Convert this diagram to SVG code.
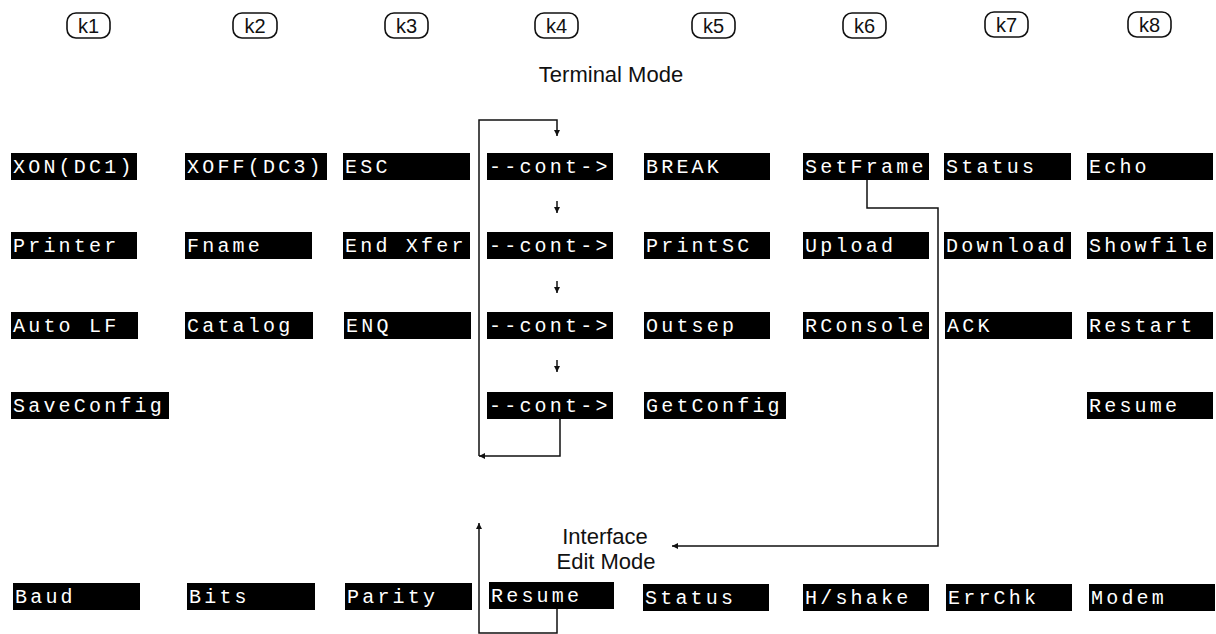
<svg xmlns="http://www.w3.org/2000/svg" width="1216" height="634" viewBox="0 0 1216 634">
  <style>
    .key rect { fill: #fff; stroke: #111; stroke-width: 1.6; }
    .key text { font-family: "Liberation Sans", Arial, sans-serif; font-size: 20px; fill: #111; text-anchor: middle; }
    .sk rect { fill: #000; }
    .sk text { font-family: "Liberation Mono", "DejaVu Sans Mono", monospace; font-size: 20px; letter-spacing: 3.2px; fill: #fff; }
    .title { font-family: "Liberation Sans", Arial, sans-serif; font-size: 22px; fill: #111; text-anchor: middle; }
    .wire { fill: none; stroke: #111; stroke-width: 1.5; }
  </style>
  <defs>
    <marker id="ah" viewBox="0 0 10 10" refX="10" refY="5" markerWidth="6" markerHeight="6" orient="auto" markerUnits="userSpaceOnUse">
      <path d="M0,0 L10,5 L0,10 z" fill="#111"/>
    </marker>
  </defs>
  <rect width="1216" height="634" fill="#fff"/>

  <!-- function key badges -->
  <g id="keys">
    <g id="k1" class="key"><rect x="67" y="13" width="43" height="25" rx="9"/><text x="88.5" y="33">k1</text></g>
    <g id="k2" class="key"><rect x="233" y="13" width="44" height="25" rx="9"/><text x="255" y="33">k2</text></g>
    <g id="k3" class="key"><rect x="385" y="13" width="43" height="25" rx="9"/><text x="406.5" y="33">k3</text></g>
    <g id="k4" class="key"><rect x="535" y="13" width="43" height="25" rx="9"/><text x="556.5" y="33">k4</text></g>
    <g id="k5" class="key"><rect x="692" y="13" width="43" height="25" rx="9"/><text x="713.5" y="33">k5</text></g>
    <g id="k6" class="key"><rect x="843" y="13" width="43" height="25" rx="9"/><text x="864.5" y="33">k6</text></g>
    <g id="k7" class="key"><rect x="985" y="12" width="43" height="25" rx="9"/><text x="1006.5" y="32">k7</text></g>
    <g id="k8" class="key"><rect x="1128" y="12" width="43" height="25" rx="9"/><text x="1149.5" y="32">k8</text></g>
  </g>

  <text id="terminal-mode" class="title" x="611" y="82">Terminal Mode</text>
  <g id="interface-edit-mode">
    <text class="title" x="605" y="544">Interface</text>
    <text class="title" x="606" y="569">Edit Mode</text>
  </g>

  <!-- row 1 -->
  <g id="xon" class="sk"><rect x="11" y="153" width="126" height="27"/><text x="13" y="173">XON(DC1)</text></g>
  <g id="xoff" class="sk"><rect x="185" y="153" width="142" height="27"/><text x="187" y="173">XOFF(DC3)</text></g>
  <g id="esc" class="sk"><rect x="343" y="153" width="127" height="27"/><text x="345" y="173">ESC</text></g>
  <g id="cont1" class="sk"><rect x="487" y="153" width="126" height="27"/><text x="489" y="173">--cont-&gt;</text></g>
  <g id="break" class="sk"><rect x="644" y="153" width="126" height="27"/><text x="646" y="173">BREAK</text></g>
  <g id="setframe" class="sk"><rect x="803" y="153" width="126" height="27"/><text x="805" y="173">SetFrame</text></g>
  <g id="status1" class="sk"><rect x="944" y="153" width="127" height="27"/><text x="946" y="173">Status</text></g>
  <g id="echo" class="sk"><rect x="1087" y="153" width="126" height="27"/><text x="1089" y="173">Echo</text></g>

  <!-- row 2 -->
  <g id="printer" class="sk"><rect x="11" y="232" width="126" height="27"/><text x="13" y="252">Printer</text></g>
  <g id="fname" class="sk"><rect x="185" y="232" width="127" height="27"/><text x="187" y="252">Fname</text></g>
  <g id="endxfer" class="sk"><rect x="343" y="232" width="127" height="27"/><text x="345" y="252">End Xfer</text></g>
  <g id="cont2" class="sk"><rect x="487" y="232" width="126" height="27"/><text x="489" y="252">--cont-&gt;</text></g>
  <g id="printsc" class="sk"><rect x="644" y="232" width="126" height="27"/><text x="646" y="252">PrintSC</text></g>
  <g id="upload" class="sk"><rect x="803" y="232" width="126" height="27"/><text x="805" y="252">Upload</text></g>
  <g id="download" class="sk"><rect x="944" y="232" width="127" height="27"/><text x="946" y="252">Download</text></g>
  <g id="showfile" class="sk"><rect x="1087" y="232" width="126" height="27"/><text x="1089" y="252">Showfile</text></g>

  <!-- row 3 -->
  <g id="autolf" class="sk"><rect x="11" y="312" width="127" height="27"/><text x="13" y="332">Auto LF</text></g>
  <g id="catalog" class="sk"><rect x="185" y="312" width="128" height="27"/><text x="187" y="332">Catalog</text></g>
  <g id="enq" class="sk"><rect x="344" y="312" width="127" height="27"/><text x="346" y="332">ENQ</text></g>
  <g id="cont3" class="sk"><rect x="487" y="312" width="126" height="27"/><text x="489" y="332">--cont-&gt;</text></g>
  <g id="outsep" class="sk"><rect x="644" y="312" width="126" height="27"/><text x="646" y="332">Outsep</text></g>
  <g id="rconsole" class="sk"><rect x="803" y="312" width="126" height="27"/><text x="805" y="332">RConsole</text></g>
  <g id="ack" class="sk"><rect x="945" y="312" width="127" height="27"/><text x="947" y="332">ACK</text></g>
  <g id="restart" class="sk"><rect x="1087" y="312" width="126" height="27"/><text x="1089" y="332">Restart</text></g>

  <!-- row 4 -->
  <g id="saveconfig" class="sk"><rect x="11" y="392" width="158" height="27"/><text x="13" y="412">SaveConfig</text></g>
  <g id="cont4" class="sk"><rect x="487" y="392" width="126" height="27"/><text x="489" y="412">--cont-&gt;</text></g>
  <g id="getconfig" class="sk"><rect x="644" y="392" width="142" height="27"/><text x="646" y="412">GetConfig</text></g>
  <g id="resume1" class="sk"><rect x="1087" y="392" width="126" height="27"/><text x="1089" y="412">Resume</text></g>

  <!-- interface edit row -->
  <g id="baud" class="sk"><rect x="13" y="583" width="127" height="27"/><text x="15" y="603">Baud</text></g>
  <g id="bits" class="sk"><rect x="187" y="583" width="128" height="27"/><text x="189" y="603">Bits</text></g>
  <g id="parity" class="sk"><rect x="345" y="583" width="127" height="27"/><text x="347" y="603">Parity</text></g>
  <g id="resume2" class="sk"><rect x="489" y="582" width="125" height="27"/><text x="491" y="602">Resume</text></g>
  <g id="status2" class="sk"><rect x="643" y="584" width="126" height="27"/><text x="645" y="604">Status</text></g>
  <g id="hshake" class="sk"><rect x="803" y="584" width="126" height="27"/><text x="805" y="604">H/shake</text></g>
  <g id="errchk" class="sk"><rect x="946" y="584" width="126" height="27"/><text x="948" y="604">ErrChk</text></g>
  <g id="modem" class="sk"><rect x="1089" y="584" width="126" height="27"/><text x="1091" y="604">Modem</text></g>

  <!-- connectors -->
  <g id="connectors" class="wire">
    <!-- cont chain loop back to first page -->
    <path d="M479,456 V120 H557 V136" marker-end="url(#ah)"/>
    <line x1="557" y1="201" x2="557" y2="213" marker-end="url(#ah)"/>
    <line x1="557" y1="281" x2="557" y2="293" marker-end="url(#ah)"/>
    <line x1="557" y1="360" x2="557" y2="372" marker-end="url(#ah)"/>
    <path d="M560,419 V456 H479" marker-end="url(#ah)"/>
    <!-- SetFrame into interface edit mode -->
    <path d="M867,180 V208 H938 V546 H672" marker-end="url(#ah)"/>
    <!-- Resume back to terminal mode -->
    <path d="M557,609 V633 H479 V523" marker-end="url(#ah)"/>
  </g>
</svg>
